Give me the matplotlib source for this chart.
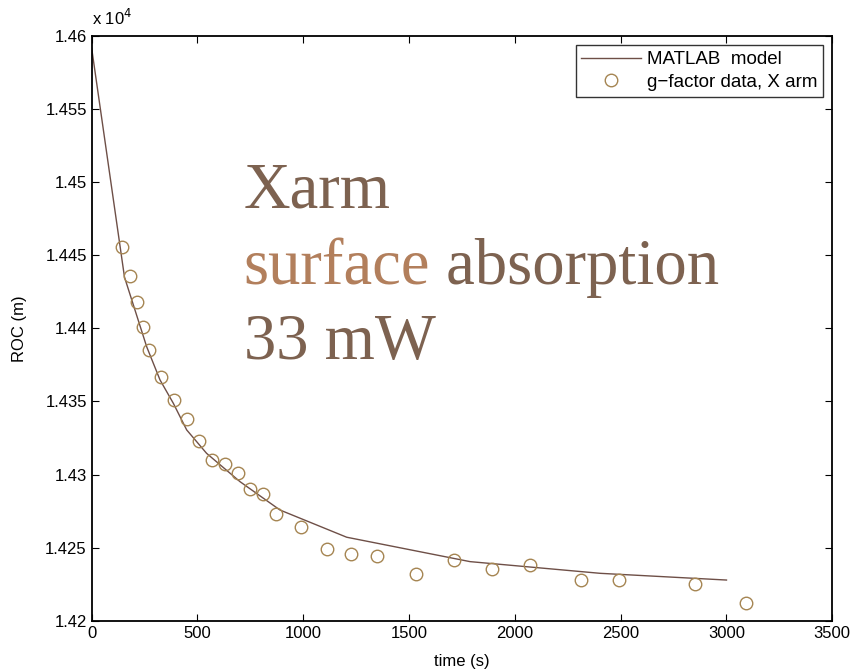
import matplotlib
matplotlib.use("Agg")
import matplotlib.pyplot as plt

# ---- data (ROC in metres) ----
data_t = [143, 181, 214, 242, 271, 327, 389, 449, 508, 570, 628, 690, 750, 811,
          871, 991, 1112, 1225, 1348, 1531, 1711, 1892, 2073, 2311, 2492, 2853, 3092]
data_roc = [14455.7, 14435.8, 14418.0, 14400.9, 14385.2, 14366.9, 14351.0, 14337.8,
            14322.9, 14309.9, 14307.0, 14301.2, 14290.3, 14286.5, 14272.8, 14264.3,
            14249.0, 14245.6, 14244.3, 14232.0, 14241.3, 14235.4, 14238.3, 14228.1,
            14227.8, 14225.1, 14212.1]

model_t = [0, 155, 260, 323, 386, 449, 543, 701, 890, 1205, 1788, 2403, 3000]
model_roc = [14591.6, 14435.1, 14387.4, 14364.7, 14348.7, 14330.5, 14314.5,
             14295.1, 14275.7, 14257.1, 14240.4, 14232.4, 14227.8]

scale = 1e4
xticks = [0, 500, 1000, 1500, 2000, 2500, 3000, 3500]
yticks = [1.42, 1.425, 1.43, 1.435, 1.44, 1.445, 1.45, 1.455, 1.46]
ytick_labels = ["1.42", "1.425", "1.43", "1.435", "1.44", "1.445", "1.45", "1.455", "1.46"]

plt.rcParams['font.family'] = ['Liberation Sans', 'DejaVu Sans']

fig = plt.figure(figsize=(8.56, 6.71), dpi=100)
ax = fig.add_axes([0.1071, 0.075, 0.8652, 0.8713])

ax.plot(model_t, [v / scale for v in model_roc], color='#6e4f47', lw=1.0,
        label='MATLAB  model')
ax.plot(data_t, [v / scale for v in data_roc], linestyle='none', marker='o',
        markersize=9, markerfacecolor='none', markeredgecolor='#a58552',
        markeredgewidth=1.0, label='g\u2212factor data, X arm')

ax.set_xlim(0, 3500)
ax.set_ylim(1.42, 1.46)
ax.set_xticks(xticks)
ax.set_xticklabels([str(x) for x in xticks])
ax.set_yticks(yticks)
ax.set_yticklabels(ytick_labels)
ax.tick_params(direction='in', length=5, width=0.8, labelsize=12,
               top=True, right=True, colors='black')
for s in ax.spines.values():
    s.set_linewidth(1.3)

ax.set_xlabel('time (s)', fontsize=12, labelpad=10)
ax.set_ylabel('ROC (m)', fontsize=12, labelpad=13)

fig.text(0.1071, 0.958, r'x 10$^{4}$', fontsize=12, ha='left', va='bottom')

leg = ax.legend(loc='upper right', fontsize=13.5, frameon=True, fancybox=False,
                edgecolor='black', borderaxespad=0.5, handlelength=3.2,
                handletextpad=0.3, borderpad=0.3, labelspacing=0.3)
leg.get_frame().set_linewidth(1.0)

# annotation text
dark = '#7d6250'
light = '#b27f5c'
serif = ['Liberation Serif', 'DejaVu Serif']
fs = 46.5
ax.text(0.2055, 0.7068, 'Xarm', transform=ax.transAxes, fontsize=fs,
        family=serif, color=dark, ha='left', va='baseline')
t1 = ax.text(0.2055, 0.5756, 'surface', transform=ax.transAxes, fontsize=fs,
             family=serif, color=light, ha='left', va='baseline')
ax.annotate(' absorption', xycoords=t1, xy=(1, 0), va='bottom', ha='left',
            fontsize=fs, family=serif, color=dark)
ax.text(0.2055, 0.4473, '33 mW', transform=ax.transAxes, fontsize=fs,
        family=serif, color=dark, ha='left', va='baseline')

fig.savefig('out.png', dpi=100)
